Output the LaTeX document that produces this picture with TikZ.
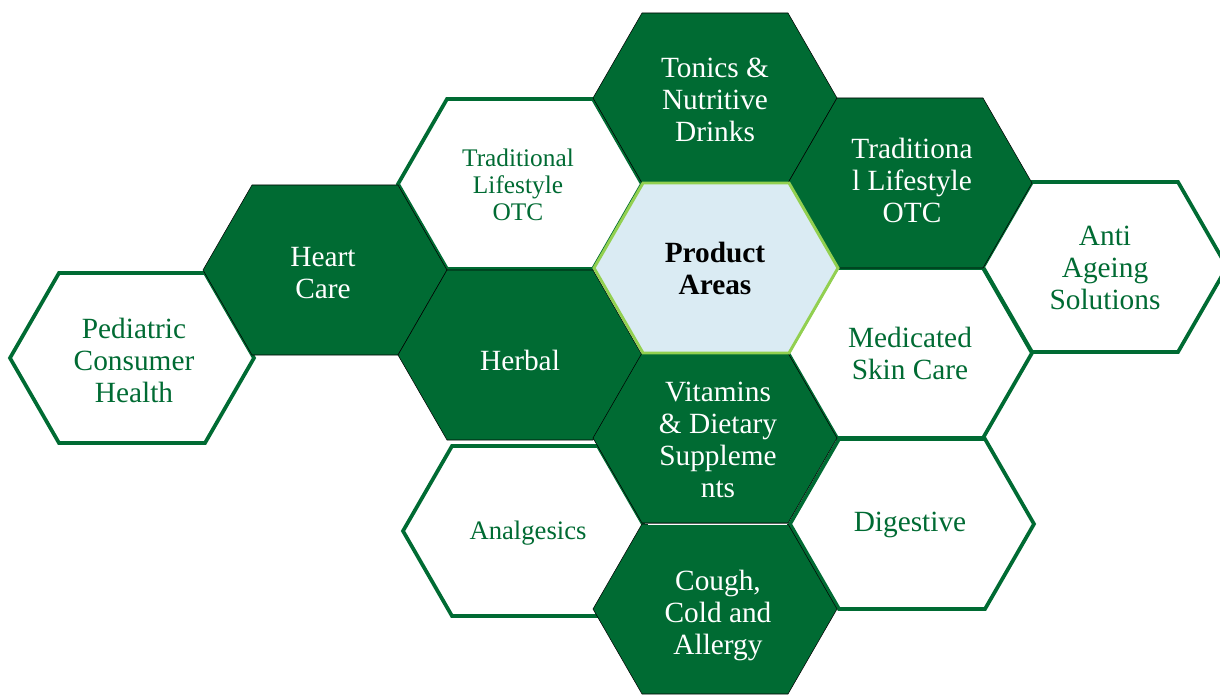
\documentclass[tikz,border=0pt]{standalone}
\usepackage{fontspec}
\setmainfont{Liberation Serif}
\definecolor{leaf}{RGB}{0,107,51}
\definecolor{paleblue}{RGB}{218,235,243}
\definecolor{lime}{RGB}{146,208,80}
\tikzstyle{base}=[inner sep=0pt, outer sep=0pt, x=0.75pt, y=-0.75pt]
\tikzstyle{cell}=[align=center, font=\fontsize{22}{24}\selectfont]
\tikzstyle{lightcell}=[cell, text=leaf]
\tikzstyle{darkcell}=[cell, text=white]
\tikzstyle{whitehex}=[draw=leaf, line width=2.8pt, fill=white]
\tikzstyle{darkhex}=[fill=leaf]
\tikzstyle{hubhex}=[draw=lime, line width=2.2pt, fill=paleblue]
\newcommand*{\hexcell}[2]{%
  \draw [#2] (#1) ++(-122,0) -- ++(49,-85) -- ++(146,0) -- ++(49,85)
    -- ++(-49,85) -- ++(-146,0) -- cycle;}

\begin{document}
\begin{tikzpicture}[base]
    \path [use as bounding box] (0,0) rectangle (1220,695);
    % outlined cells
        \hexcell{520,184}{whitehex}
        \hexcell{132,358}{whitehex}
        \hexcell{525,531}{whitehex}
        \hexcell{910,353}{whitehex}
        \hexcell{912,524}{whitehex}
        \hexcell{1105,267}{whitehex}
    % filled cells
        \hexcell{715,98}{darkhex}
        \hexcell{910,183}{darkhex}
        \hexcell{325,270}{darkhex}
        \hexcell{520,355}{darkhex}
        \hexcell{715,438}{darkhex}
        \hexcell{715,609}{darkhex}
        \coordinate (seamL) at (648,524);
        \coordinate (seamR) at (787,524);
        \draw [white, line width=0.75pt] (seamL) -- (seamR);
    % centre
        \hexcell{716,268}{hubhex}

        \node [lightcell, font=\fontsize{19}{20}\selectfont] (tradleft) at (518,185) {Traditional\\Lifestyle\\OTC};
        \node [lightcell] (pediatric) at (134,360) {Pediatric\\Consumer\\Health};
        \node [lightcell, font=\fontsize{20}{24}\selectfont] (analgesics) at (528,533) {Analgesics};
        \node [lightcell] (skincare) at (910,353) {Medicated\\Skin Care};
        \node [lightcell] (digestive) at (910,525) {Digestive};
        \node [lightcell] (ageing) at (1105,268) {Anti\\Ageing\\Solutions};
        \node [darkcell] (tonics) at (715,100) {Tonics \&\\Nutritive\\Drinks};
        \node [darkcell] (tradright) at (912,180) {Traditiona\\l Lifestyle\\OTC};
        \node [darkcell] (heart) at (323,273) {Heart\\Care};
        \node [darkcell] (herbal) at (520,360) {Herbal};
        \node [darkcell] (vitamins) at (718,440) {Vitamins\\\& Dietary\\Suppleme\\nts};
        \node [darkcell] (cough) at (718,615) {Cough,\\Cold and\\Allergy};
        \node [cell, font=\fontsize{22}{24}\bfseries] (hub) at (715,268) {Product\\Areas};
\end{tikzpicture}
\end{document}
